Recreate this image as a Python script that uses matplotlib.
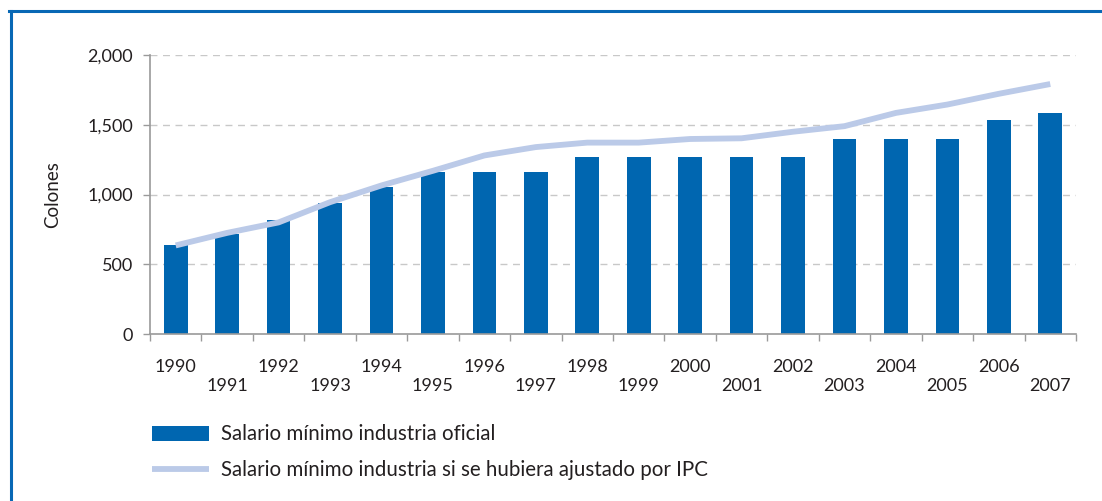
import numpy as np
import matplotlib
matplotlib.use("Agg")
import matplotlib.pyplot as plt
import matplotlib.ticker as mticker
from matplotlib.lines import Line2D

plt.rcParams["font.family"] = ["Lato", "DejaVu Sans"]

years = [1990, 1991, 1992, 1993, 1994, 1995, 1996, 1997, 1998,
         1999, 2000, 2001, 2002, 2003, 2004, 2005, 2006, 2007]
salario_oficial = [640, 720, 820, 940, 1055, 1160, 1160, 1160, 1270,
                   1270, 1270, 1270, 1270, 1400, 1400, 1400, 1535, 1585]
salario_ipc = [635, 725, 800, 945, 1065, 1170, 1280, 1340, 1372,
               1372, 1398, 1403, 1450, 1490, 1585, 1645, 1722, 1792]
yticks = [0, 500, 1000, 1500, 2000]

BAR_COLOR = "#0066B0"
LINE_COLOR = "#BBCAE8"
TEXT_COLOR = "#231F20"
AXIS_COLOR = "#9A9A9A"
FS = 13

fig = plt.figure(figsize=(11.02, 5.01), dpi=100)
ax = fig.add_axes([0.1361, 0.3333, 0.8403, 0.5569])

x = np.arange(len(years))
bars = ax.bar(x, salario_oficial, width=0.46, color=BAR_COLOR, zorder=2,
              label="Salario mínimo industria oficial")
line, = ax.plot(x, salario_ipc, color=LINE_COLOR, linewidth=4.2, zorder=3,
                solid_capstyle="butt",
                label="Salario mínimo industria si se hubiera ajustado por IPC")

ax.set_xlim(-0.5, len(years) - 0.5)
ax.set_ylim(0, 2000)
ax.set_yticks(yticks)
ax.yaxis.set_major_formatter(mticker.FuncFormatter(lambda v, p: f"{int(v):,}"))
ax.grid(axis="y", color="#C8C8C8", linestyle=(0, (5, 4)), linewidth=1.0, zorder=0)

# boundary ticks (major) without labels, year labels on minor ticks
ax.set_xticks(np.arange(len(years) + 1) - 0.5)
ax.set_xticklabels([])
ax.set_xticks(x, minor=True)
ax.set_xticklabels([str(y) if i % 2 == 0 else "\n" + str(y)
                    for i, y in enumerate(years)], minor=True)
ax.tick_params(axis="x", which="major", direction="out", length=5,
               color=AXIS_COLOR, width=1)
ax.tick_params(axis="x", which="minor", length=0, pad=18,
               labelsize=FS, labelcolor=TEXT_COLOR)
for lbl in ax.get_xticklabels(minor=True):
    lbl.set_linespacing(1.25)
ax.tick_params(axis="y", direction="out", length=5, color=AXIS_COLOR,
               width=1, labelsize=FS, labelcolor=TEXT_COLOR, pad=7)

for s in ["top", "right"]:
    ax.spines[s].set_visible(False)
for s in ["left", "bottom"]:
    ax.spines[s].set_color(AXIS_COLOR)
    ax.spines[s].set_linewidth(1.2)

ax.set_ylabel("Colones", fontsize=13.5, color=TEXT_COLOR, labelpad=19)

# legend: bars first, then line
leg = fig.legend([bars, line], [bars.get_label(), line.get_label()],
                 loc="upper left",
                 bbox_to_anchor=(133 / 1102, 1 - 406 / 501),
                 frameon=False, fontsize=14.8, handlelength=2.8,
                 handleheight=0.75, handletextpad=0.6, labelspacing=0.75)
for t in leg.get_texts():
    t.set_color(TEXT_COLOR)

# frame lines (left and top)
fig.add_artist(Line2D([10.5 / 1102, 10.5 / 1102], [0, 1 - 11 / 501],
                      transform=fig.transFigure, color="#0868B5", linewidth=2.2))
fig.add_artist(Line2D([9.4 / 1102, 1], [1 - 11 / 501, 1 - 11 / 501],
                      transform=fig.transFigure, color="#0868B5", linewidth=2.2))

fig.savefig("out.png", dpi=100)
